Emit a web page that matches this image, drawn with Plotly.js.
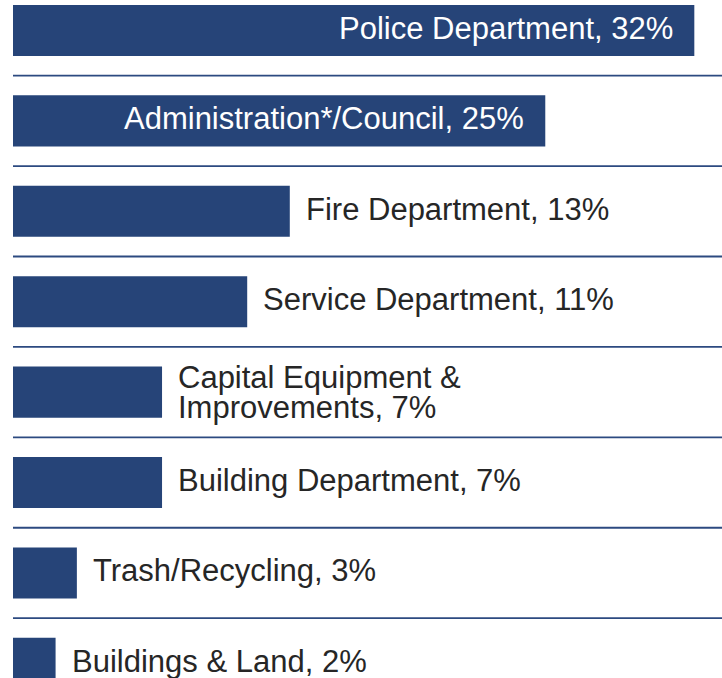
<!DOCTYPE html>
<html>
<head>
<meta charset="utf-8">
<script src="https://cdn.plot.ly/plotly-3.0.1.min.js"></script>
<style>html,body{margin:0;padding:0;background:#fff;}#chart{width:722px;height:678px;}</style>
</head>
<body>
<div id="chart"></div>
<script>
// Data
var categories = ["Police Department", "Administration*/Council", "Fire Department", "Service Department",
  "Capital Equipment &<br>Improvements", "Building Department", "Trash/Recycling", "Buildings & Land"];
var shares = [32, 25, 13, 11, 7, 7, 3, 2];
var labelInside = [true, true, false, false, false, false, false, false];

var barColor = "#264478";
var fontFamily = "'Liberation Sans', Arial, sans-serif";
var fontSize = 31;
var lineGap = 30;

var yIdx = categories.map(function (c, i) { return i; });

var trace = {
  type: "bar",
  orientation: "h",
  y: yIdx,
  x: shares,
  width: 0.565,
  marker: { color: barColor, line: { width: 0 } },
  hoverinfo: "none"
};

var annotations = [];
categories.forEach(function (cat, i) {
  var lines = cat.split("<br>");
  var n = lines.length;
  lines.forEach(function (ln, j) {
    var txt = ln + (j === n - 1 ? ", " + shares[i] + "%" : "");
    var yshift = (n === 1 ? 2 : 0) + (n - 1) * lineGap / 2 - j * lineGap;
    annotations.push({
      x: shares[i], y: yIdx[i], xref: "x", yref: "y",
      text: txt, showarrow: false,
      xanchor: labelInside[i] ? "right" : "left",
      yanchor: "middle",
      xshift: labelInside[i] ? -19 : 14,
      yshift: yshift,
      font: { family: fontFamily, size: fontSize, color: labelInside[i] ? "#ffffff" : "#262626" }
    });
  });
});

var shapes = [];
for (var k = 0; k < categories.length - 1; k++) {
  shapes.push({
    type: "line", xref: "paper", yref: "y",
    x0: 0, x1: 1, y0: k + 0.5, y1: k + 0.5,
    line: { color: "#2c4a80", width: 1.8 }
  });
}

var layout = {
  width: 722, height: 678,
  margin: { l: 13, r: 0, t: 0, b: 0, pad: 0 },
  paper_bgcolor: "#ffffff", plot_bgcolor: "#ffffff",
  showlegend: false,
  xaxis: { range: [0, 33.3], showgrid: false, zeroline: false, showticklabels: false, showline: false, fixedrange: true },
  yaxis: { range: [7.162, -0.337], showgrid: false, zeroline: false, showticklabels: false, showline: false, fixedrange: true },
  annotations: annotations,
  shapes: shapes
};

Plotly.newPlot("chart", [trace], layout, { staticPlot: true, displayModeBar: false });
</script>
</body>
</html>
